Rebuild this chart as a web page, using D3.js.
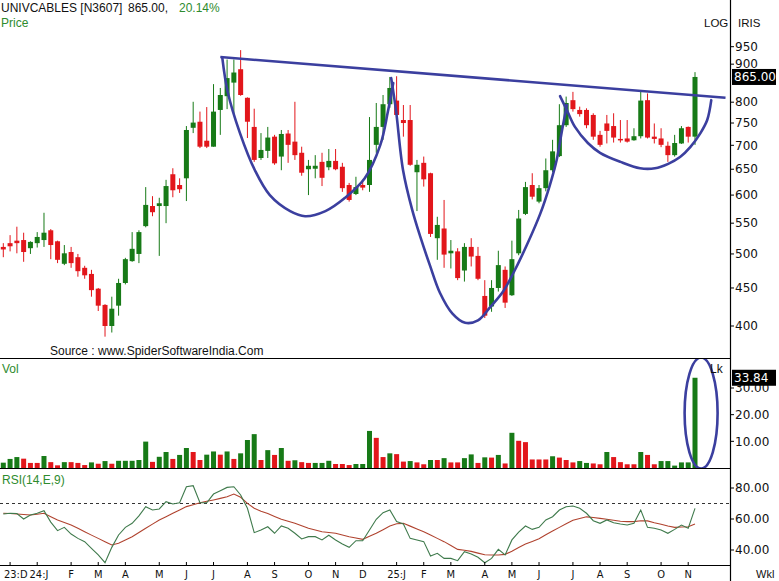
<!DOCTYPE html>
<html><head><meta charset="utf-8">
<script src="https://cdn.jsdelivr.net/npm/d3@7"></script>
<style>
body{margin:0;background:#fff;}
svg{display:block;font-family:"Liberation Sans",Arial,sans-serif;}
</style></head><body>
<svg id="c" width="779" height="581"></svg>
<script>
// ---------- DATA ----------
const startWeek = "2023-11-27";
const opens  = [511,517,521,522,509,517,522,538,520,485,503,495,479,470,449,427,400,426,457,489,500,545,580,580,580,640,619,632,739,753,710,697,781,815,850,886,811,741,673,688,719,676,726,708,684,650,651,665,654,667,655,619,602,619,619,701,741,795,804,757,757,644,663,642,525,541,501,504,475,511,497,439,425,450,476,440,501,566,619,588,613,648,677,745,805,781,781,769,723,749,743,714,715,711,720,805,719,715,699,679,704,741,719];
const highs  = [517,530,544,534,520,535,568,540,521,514,511,500,482,476,450,428,438,463,494,535,538,615,598,595,629,652,632,743,801,777,788,846,836,913,913,940,812,784,727,741,723,734,734,801,697,669,679,684,692,692,663,623,635,629,764,798,818,865,867,793,793,669,676,643,561,591,522,509,517,525,511,461,461,505,481,521,573,625,642,619,672,712,795,814,826,789,785,773,732,769,773,757,757,738,826,822,749,738,708,723,743,742,878];
const lows   = [495,504,501,488,500,510,511,492,486,483,479,466,463,438,419,387,392,413,455,488,486,543,562,497,550,596,604,589,727,694,694,697,723,783,769,816,716,665,669,673,659,648,663,669,637,600,632,617,648,648,606,588,600,609,606,684,712,786,762,719,657,571,616,527,491,479,478,461,459,481,461,410,418,445,423,439,498,564,592,585,607,644,675,741,777,765,738,712,697,704,706,706,706,710,715,715,704,696,665,676,703,706,701];
const closes = [507,512,517,503,519,527,534,514,491,501,486,474,468,447,426,400,422,457,492,508,535,582,569,585,617,609,611,734,751,697,697,777,818,862,877,818,753,669,690,717,662,725,701,679,643,657,657,633,667,650,613,591,615,614,669,741,795,836,769,750,659,659,630,532,547,499,505,464,511,496,463,413,450,483,430,492,558,615,597,613,648,687,745,798,783,771,745,719,701,732,717,712,708,720,804,717,714,701,679,705,738,719,865];
const volumes = [2.0,3.4,4.1,3.5,1.9,1.9,4.5,2.2,1.0,2.2,2.2,1.9,1.1,2.1,1.6,2.6,1.6,2.7,2.7,2.7,3.0,9.9,2.3,4.2,6.0,3.4,4.9,7.5,6.0,3.0,5.0,6.2,5.0,6.2,3.4,5.5,10.5,12.7,3.0,6.7,4.9,7.5,2.7,2.9,2.2,1.9,1.9,1.9,2.7,1.5,1.5,1.1,1.5,1.5,13.9,11.3,4.1,5.5,5.2,2.4,2.6,2.1,1.4,3.0,3.0,3.7,2.1,2.1,3.7,5.1,1.9,4.0,3.9,4.9,1.7,13.2,10.2,9.7,3.2,3.2,3.2,4.4,3.9,3.0,2.1,2.6,1.9,1.7,1.4,6.0,4.1,2.2,1.4,1.4,6.0,4.9,1.4,2.6,2.6,0.9,2.1,2.1,33.84];
const volUp = [1,1,1,0,0,0,1,0,0,1,0,0,0,1,0,1,0,1,1,1,1,1,0,1,1,0,1,1,0,0,1,1,0,1,0,1,1,1,0,1,0,1,0,1,0,0,1,1,1,0,0,0,1,1,1,0,0,1,0,0,1,0,0,1,0,1,0,0,1,1,0,1,0,1,0,1,0,0,0,0,0,1,0,0,0,1,1,0,0,1,0,0,0,0,1,0,0,1,1,1,1,1,1];
const rsi = [63.2,63.7,63.5,60.0,62.6,63.7,65.4,58.0,52.5,54.6,50.3,47.5,45.4,41.1,36.8,31.8,41.7,49.7,54.6,57.2,62.0,67.9,65.8,66.5,71.2,69.7,70.5,80.8,81.5,70.5,70.5,76.1,78.3,80.4,80.8,75.5,66.9,51.2,52.9,55.0,50.8,55.5,54.0,50.8,47.1,48.6,48.6,46.5,49.5,46.5,43.9,41.7,46.0,46.0,52.9,59.8,64.1,65.8,58.3,56.8,47.5,46.5,45.4,36.1,37.9,34.6,34.6,33.1,38.9,37.4,35.3,31.8,34.6,40.4,36.8,46.5,51.5,55.5,53.3,54.6,59.4,61.5,65.8,67.9,68.4,66.9,63.7,58.9,57.2,59.4,57.6,56.8,56.1,57.2,65.8,54.6,54.0,52.9,50.8,53.3,56.1,54.0,66.9];
const rsiSignal = [63.7,63.5,63.2,62.9,62.6,63.1,63.7,61.5,59.4,57.8,56.1,54.0,51.8,49.6,47.5,45.3,43.2,44.3,46.4,48.6,51.3,54.0,56.7,59.4,61.5,63.7,65.8,68.0,69.2,70.5,71.4,72.3,73.3,74.4,76.1,74.0,70.1,66.9,65.0,63.5,61.6,59.8,58.5,57.2,55.6,54.0,52.9,51.8,51.3,50.8,49.7,48.6,47.7,46.9,48.8,50.8,53.1,55.5,56.9,57.2,55.4,53.6,51.8,49.7,47.5,45.4,42.9,40.4,39.8,39.1,38.0,36.9,36.8,36.8,37.2,39.2,41.6,43.8,45.5,47.3,49.8,52.2,54.6,57.0,59.2,60.3,61.4,61.0,60.4,59.8,59.2,58.5,58.3,58.3,58.9,58.8,57.6,56.6,55.5,54.6,54.8,55.0,56.8];
const monthLabels = ["23:D","24:J","F","M","A","M","J","J","A","S","O","N","D","25:J","F","M","A","M","J","J","A","S","O","N"];
const priceTicks = [400,450,500,550,600,650,700,750,800,900,950];
const volTicks = [10,20,30];
const rsiTicks = [40,60,80];
const rsiLevel = 70;
// analyst drawings, in (week index, value) space
const resistance = [[32.0,920],[106.5,811]];
const cup1 = [[32.3,917],[33.1,825],[34.9,727],[37.1,648],[39.3,600],[42.3,571],[44.5,562],[47.5,571],[50.4,595],[53.3,632],[55.6,701],[56.7,776],[57.5,849]];
const cup2 = [[57.2,862],[57.9,781],[58.95,648],[60.3,573],[61.5,527],[62.9,483],[64.4,443],[66.2,416],[68.1,404],[70.0,407],[71.8,424],[73.7,445],[75.2,471],[77.2,514],[79.2,567],[80.6,619],[81.6,669],[82.4,734],[83.1,793]];
const cup3 = [[82.1,815],[83.1,781],[84.3,741],[86.2,705],[88.0,684],[91.0,665],[93.9,652],[96.1,652],[98.05,661],[99.8,675],[101.3,696],[102.8,727],[103.8,757],[104.4,805]];
const volOval = {i:102.9, v:20.6};

// ---------- SCALES ----------
const W = 779, H = 581, AX = 730;
const svg = d3.select("#c");
const n = opens.length;
const x = d3.scaleLinear().domain([0, n-1]).range([3.3, 695]);
const yP = d3.scaleLog().domain([400, 950]).range([326, 46.7]);
const yV = d3.scaleLinear().domain([0, 30]).range([468, 388]);
const yR = d3.scaleLinear().domain([40, 80]).range([550, 488]);

const GREEN = "#177a17", RED = "#e2161b", BLUE = "#3b3f9f";
const TXTGREEN = "#2e8b2e";

svg.append("rect").attr("width",W).attr("height",H).attr("fill","#fff");

const defs = svg.append("defs");
defs.append("clipPath").attr("id","cp").append("rect").attr("x",0).attr("y",0).attr("width",AX).attr("height",358);
defs.append("clipPath").attr("id","cv").append("rect").attr("x",0).attr("y",358).attr("width",AX).attr("height",110);

// ---------- PRICE PANEL ----------
const gP = svg.append("g");
const idx = d3.range(n);
gP.selectAll("line.wick").data(idx).join("line")
  .attr("x1", i => x(i)).attr("x2", i => x(i))
  .attr("y1", i => yP(highs[i])).attr("y2", i => yP(lows[i]))
  .attr("stroke", i => closes[i] >= opens[i] ? GREEN : RED).attr("stroke-width",1);
gP.selectAll("rect.body").data(idx).join("rect")
  .attr("x", i => x(i) - 2.5).attr("width", 5)
  .attr("y", i => yP(Math.max(opens[i], closes[i])))
  .attr("height", i => Math.max(1.5, Math.abs(yP(opens[i]) - yP(closes[i]))))
  .attr("fill", i => closes[i] >= opens[i] ? GREEN : RED);

const gA = svg.append("g").attr("clip-path","url(#cp)");
const lineP = d3.line().x(d => x(d[0])).y(d => yP(d[1]));
const curveP = d3.line().x(d => x(d[0])).y(d => yP(d[1])).curve(d3.curveCatmullRom.alpha(0.5));
gA.append("path").attr("d", lineP(resistance)).attr("stroke",BLUE).attr("stroke-width",2.6).attr("fill","none");
[cup1,cup2,cup3].forEach(c => gA.append("path").attr("d", curveP(c)).attr("stroke",BLUE).attr("stroke-width",2.6).attr("fill","none").attr("stroke-linecap","round"));

// ---------- VOLUME PANEL ----------
const gV = svg.append("g");
gV.selectAll("rect").data(idx).join("rect")
  .attr("x", i => x(i) - 2.5).attr("width", 5)
  .attr("y", i => yV(volumes[i])).attr("height", i => yV(0) - yV(volumes[i]))
  .attr("fill", i => volUp[i] ? GREEN : RED);
svg.append("g").attr("clip-path","url(#cv)").append("ellipse")
  .attr("cx", x(volOval.i)).attr("cy", yV(volOval.v)).attr("rx",16.5).attr("ry",55.5)
  .attr("fill","none").attr("stroke",BLUE).attr("stroke-width",2.6);

// ---------- RSI PANEL ----------
const gR = svg.append("g");
gR.append("line").attr("x1",0).attr("x2",AX).attr("y1",yR(rsiLevel)).attr("y2",yR(rsiLevel))
  .attr("stroke","#333").attr("stroke-dasharray","3,3").attr("stroke-width",1);
const lineR = d3.line().x((d,i) => x(i)).y(d => yR(d));
gR.append("path").attr("d", lineR(rsiSignal)).attr("fill","none").attr("stroke","#b0432f").attr("stroke-width",1.1);
gR.append("path").attr("d", lineR(rsi)).attr("fill","none").attr("stroke","#3f7a4c").attr("stroke-width",1.1);

// ---------- FRAME ----------
const frame = svg.append("g").attr("stroke","#000").attr("stroke-width",1.2);
frame.append("line").attr("x1",AX+0.5).attr("x2",AX+0.5).attr("y1",0).attr("y2",H);
[358.5,468.5,565.5].forEach(yy => frame.append("line").attr("x1",0).attr("x2",AX).attr("y1",yy).attr("y2",yy));

// ---------- RIGHT AXES ----------
const axisFont = "DejaVu Sans";
function rightTicks(vals, scale, fmt){
  const g = svg.append("g");
  vals.forEach(v => {
    const yy = scale(v);
    g.append("line").attr("x1",AX).attr("x2",AX+4).attr("y1",yy).attr("y2",yy).attr("stroke","#000");
    g.append("text").attr("x",AX+5).attr("y",yy).attr("dy","0.35em").attr("font-family",axisFont)
      .attr("font-size",12).attr("fill","#111").text(fmt(v));
  });
}
rightTicks(priceTicks, yP, d3.format("d"));
rightTicks(volTicks, yV, d3.format(".2f"));
rightTicks(rsiTicks, yR, d3.format(".2f"));

function valueBox(v, yy){
  const g = svg.append("g");
  g.append("rect").attr("x",AX+2).attr("y",yy-8).attr("width",44).attr("height",16).attr("fill","#000");
  g.append("text").attr("x",AX+4).attr("y",yy).attr("dy","0.36em").attr("font-family",axisFont).attr("font-size",12)
    .attr("fill","#fff").text(v);
}
valueBox(d3.format(".2f")(closes[n-1]), yP(closes[n-1]));
valueBox(d3.format(".2f")(volumes[n-1]), yV(volumes[n-1]));

// ---------- TEXT ----------
const pct = (closes[n-1]/closes[n-2]-1)*100;
svg.append("text").attr("x",1).attr("y",12).attr("font-size",12).attr("fill","#111").text("UNIVCABLES [N3607]");
svg.append("text").attr("x",128).attr("y",12).attr("font-size",12).attr("fill","#111").text("865.00,");
svg.append("text").attr("x",179).attr("y",12).attr("font-size",12).attr("fill",TXTGREEN).text("20.14%");
svg.append("text").attr("x",1).attr("y",27).attr("font-size",12).attr("fill",TXTGREEN).text("Price");
svg.append("text").attr("x",704).attr("y",27).attr("font-size",11.5).attr("fill","#111").text("LOG");
svg.append("text").attr("x",738).attr("y",27).attr("font-size",11.5).attr("fill","#111").text("IRIS");
svg.append("text").attr("x",50).attr("y",355).attr("font-size",12).attr("fill","#111").text("Source : www.SpiderSoftwareIndia.Com");
svg.append("text").attr("x",2).attr("y",373).attr("font-size",12).attr("fill",TXTGREEN).text("Vol");
svg.append("text").attr("x",710).attr("y",373).attr("font-size",12).attr("fill","#111").text("Lk");
svg.append("text").attr("x",2).attr("y",484).attr("font-size",12).attr("fill",TXTGREEN).text("RSI(14,E,9)");
svg.append("text").attr("x",756).attr("y",578).attr("font-size",11).attr("fill","#111").text("Wkl");

// ---------- X AXIS (months) ----------
const parse = d3.utcParse("%Y-%m-%d");
const d0 = parse(startWeek);
const dates = idx.map(i => d3.utcDay.offset(d0, 7*i));
const monthIdx = idx.filter(i => i > 0 && dates[i].getUTCMonth() !== dates[i-1].getUTCMonth());
const gX = svg.append("g").attr("font-family","DejaVu Sans Condensed, DejaVu Sans").attr("font-stretch","condensed").attr("font-size",11).attr("fill","#111");
let lastEnd = 2;
monthIdx.forEach((mi, k) => {
  const t = gX.append("text").attr("y",578).text(monthLabels[k]);
  const w = t.node().getComputedTextLength();
  let left = x(mi) - w/2;
  if (left < lastEnd + 2) left = lastEnd + 2;
  t.attr("x", left);
  lastEnd = left + w;
  svg.append("line").attr("x1",x(mi)).attr("x2",x(mi)).attr("y1",562).attr("y2",565).attr("stroke","#000");
});
</script>
</body></html>
